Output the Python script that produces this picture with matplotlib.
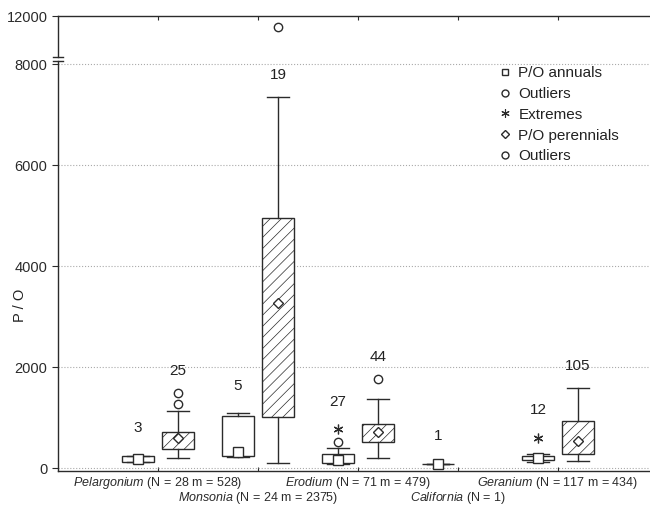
import numpy as np
import matplotlib
matplotlib.use("Agg")
import matplotlib.pyplot as plt
from matplotlib.lines import Line2D

plt.rcParams['font.family'] = ['Liberation Sans', 'DejaVu Sans']
plt.rcParams['mathtext.fontset'] = 'custom'
plt.rcParams['mathtext.rm'] = 'Liberation Sans'
plt.rcParams['mathtext.it'] = 'Liberation Sans:italic'
plt.rcParams['hatch.linewidth'] = 0.5

# genus groups along the x axis
genera = ['Pelargonium', 'Monsonia', 'Erodium', 'California', 'Geranium']
genus_info = ['(N = 28 m = 528)', '(N = 24 m = 2375)', '(N = 71 m = 479)',
              '(N = 1)', '(N = 117 m = 434)']

# P/O annuals (California has a single value)
ann_genus = [0, 1, 2, 3, 4]
ann_n = [3, 5, 27, 1, 12]
ann_med = [180, 323, 158, 79, 190]
ann_q1 = [119, 238, 90, 79, 158]
ann_q3 = [238, 1030, 271, 79, 244]
ann_lo = [119, 211, 80, 79, 110]
ann_hi = [238, 1083, 403, 79, 275]
ann_out = [[], [], [508], [], []]
ann_ext = [[], [], [766], [], [600]]

# P/O perennials (none for California)
per_genus = [0, 1, 2, 4]
per_n = [25, 19, 44, 105]
per_med = [588, 3267, 706, 541]
per_q1 = [370, 1016, 521, 271]
per_q3 = [713, 4945, 871, 930]
per_lo = [191, 93, 205, 145]
per_hi = [1135, 7346, 1360, 1578]
per_out = [[1261, 1491], [11780], [1756], []]

LINE = '#2b2b2b'

fig = plt.figure(figsize=(6.5, 5.05), dpi=100)
ax_top = fig.add_axes([58 / 650, 1 - 57 / 505, 600 / 650, 41 / 505])
ax = fig.add_axes([58 / 650, 1 - 471 / 505, 600 / 650, 410 / 505])


def make_stats(med, q1, q3, lo, hi, out):
    return [dict(med=m, mean=m, q1=a, q3=b, whislo=l, whishi=h, fliers=f)
            for m, a, b, l, h, f in zip(med, q1, q3, lo, hi, out)]


ann_stats = make_stats(ann_med, ann_q1, ann_q3, ann_lo, ann_hi, ann_out)
per_stats = make_stats(per_med, per_q1, per_q3, per_lo, per_hi, per_out)
ann_pos = [g + 1 - 0.2 for g in ann_genus]
per_pos = [g + 1 + 0.2 for g in per_genus]

common = dict(widths=0.32, capwidths=0.22, patch_artist=True, showmeans=True,
              manage_ticks=False,
              whiskerprops=dict(color=LINE, linewidth=1.0),
              capprops=dict(color=LINE, linewidth=1.0),
              medianprops=dict(linewidth=0),
              flierprops=dict(marker='o', markerfacecolor='white',
                              markeredgecolor=LINE, markersize=6, linestyle='none'))

for a in (ax, ax_top):
    a.bxp(ann_stats, positions=ann_pos,
          boxprops=dict(facecolor='white', edgecolor=LINE, linewidth=1.0),
          meanprops=dict(marker='s', markerfacecolor='white',
                         markeredgecolor=LINE, markersize=6.5), **common)
    a.bxp(per_stats, positions=per_pos,
          boxprops=dict(facecolor='white', edgecolor=LINE, linewidth=1.0, hatch='///'),
          meanprops=dict(marker='D', markerfacecolor='white',
                         markeredgecolor=LINE, markersize=5.5), **common)
    for p, ext in zip(ann_pos, ann_ext):
        if ext:
            a.plot([p] * len(ext), ext, linestyle='none', marker=(6, 2, 0),
                   color=LINE, markersize=7, markeredgewidth=0.9)

# sample counts above each box
lo_top, hi_top = -59, 8060
for pos, n, hi, out, ext in zip(ann_pos, ann_n, ann_hi, ann_out, ann_ext):
    top = max([hi] + [v for v in out + ext if v < hi_top])
    ax.annotate(str(n), (pos, top), xytext=(0, 20), textcoords='offset points',
                ha='center', va='center', fontsize=11, color='#222222')
for pos, n, hi, out in zip(per_pos, per_n, per_hi, per_out):
    top = max([hi] + [v for v in out if v < hi_top])
    ax.annotate(str(n), (pos, top), xytext=(0, 16), textcoords='offset points',
                ha='center', va='center', fontsize=11, color='#222222')

ax.set_ylim(lo_top, hi_top)
ax_top.set_ylim(11188, 12000)
for a in (ax, ax_top):
    a.set_xlim(0, 6)
    a.spines['right'].set_visible(False)
    for s in a.spines.values():
        s.set_color(LINE)
        s.set_linewidth(1.0)

ax.spines['top'].set_visible(False)
ax_top.spines['bottom'].set_visible(False)

ax.set_yticks([0, 2000, 4000, 6000, 8000])
ax_top.set_yticks([12000])
ax.yaxis.grid(True, linestyle=':', color='#aaaaaa', linewidth=0.8)
ax.set_axisbelow(True)

ax.tick_params(axis='y', direction='out', length=4, labelsize=10.5, colors=LINE)
ax_top.tick_params(axis='y', direction='out', length=4, labelsize=10.5, colors=LINE)
ax.tick_params(axis='x', direction='in', length=3, labelsize=9, colors=LINE)
ax_top.tick_params(axis='x', direction='in', length=3, bottom=False, top=True,
                   labelbottom=False, colors=LINE)

ax.set_xticks(range(1, 6))
ax_top.set_xticks(range(1, 6))
ax.set_xticklabels([r'$\mathit{' + g + '}$ ' + info for g, info in zip(genera, genus_info)])
for i, tick in enumerate(ax.xaxis.get_major_ticks()):
    tick.set_pad(3 if i % 2 == 0 else 13.5)

ax.set_ylabel('P / O', fontsize=10.5, color='#222222')
ax.yaxis.set_label_coords(-0.052, 0.405)

# axis break marks on the left spine
for a, yy in ((ax_top, 0.0), (ax, 1.0)):
    a.plot([-0.008, 0.008], [yy, yy], transform=a.transAxes, color=LINE,
           linewidth=1.0, clip_on=False)

handles = [
    Line2D([], [], linestyle='none', marker='s', markersize=5,
           markerfacecolor='white', markeredgecolor=LINE),
    Line2D([], [], linestyle='none', marker='o', markersize=5,
           markerfacecolor='white', markeredgecolor=LINE),
    Line2D([], [], linestyle='none', marker=(6, 2, 0), markersize=6,
           color=LINE, markeredgewidth=0.8),
    Line2D([], [], linestyle='none', marker='D', markersize=4.5,
           markerfacecolor='white', markeredgecolor=LINE),
    Line2D([], [], linestyle='none', marker='o', markersize=5,
           markerfacecolor='white', markeredgecolor=LINE),
]
labels = ['P/O annuals', 'Outliers', 'Extremes', 'P/O perennials', 'Outliers']
fig.legend(handles, labels, loc='upper left', bbox_to_anchor=(500 / 650, 1 - 66 / 505),
           frameon=False, fontsize=11, handlelength=0.7, handletextpad=0.5,
           labelspacing=0.45, borderpad=0, borderaxespad=0, labelcolor='#222222')

fig.savefig('out.png', dpi=100)
